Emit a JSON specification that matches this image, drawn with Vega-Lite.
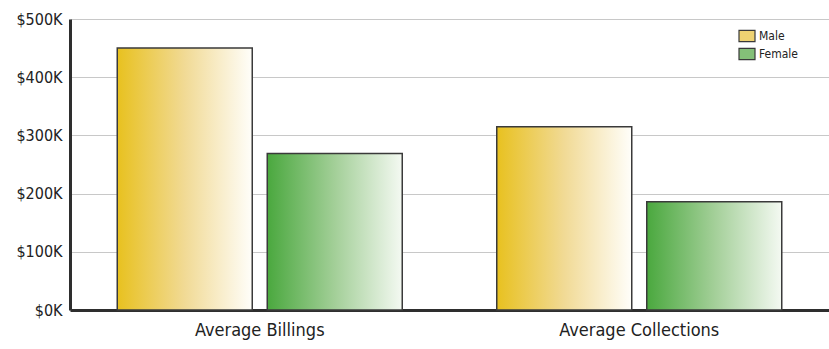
{
  "$schema": "https://vega.github.io/schema/vega-lite/v6.json",
  "autosize": "none",
  "width": 759,
  "height": 291,
  "padding": {"left": 70, "top": 19, "right": 0, "bottom": 39},
  "background": "white",
  "config": {
    "view": {"stroke": null},
    "font": "'DejaVu Sans Condensed', Lato, sans-serif"
  },
  "data": {
    "values": [
      {"metric": "Average Billings", "gender": "Male", "value": 450000},
      {"metric": "Average Billings", "gender": "Female", "value": 269000},
      {"metric": "Average Collections", "gender": "Male", "value": 315000},
      {"metric": "Average Collections", "gender": "Female", "value": 186000}
    ]
  },
  "mark": {"type": "bar", "stroke": "#3a3a3a", "strokeWidth": 1.5},
  "encoding": {
    "x": {
      "field": "metric",
      "type": "nominal",
      "sort": ["Average Billings", "Average Collections"],
      "scale": {"paddingInner": 0, "paddingOuter": 0},
      "axis": {
        "title": null,
        "labelAngle": 0,
        "labelFontSize": 18,
        "labelColor": "#222",
        "labelPadding": 11,
        "ticks": false,
        "domainColor": "#2e2e2e",
        "domainWidth": 3
      }
    },
    "xOffset": {
      "field": "gender",
      "type": "nominal",
      "sort": ["Male", "Female"],
      "scale": {"domain": ["Male", "Female"], "paddingInner": 0.1, "paddingOuter": 0.315}
    },
    "y": {
      "field": "value",
      "type": "quantitative",
      "scale": {"domain": [0, 500000]},
      "axis": {
        "title": null,
        "values": [0, 100000, 200000, 300000, 400000, 500000],
        "labelExpr": "'$' + datum.value/1000 + 'K'",
        "labelFontSize": 16,
        "labelColor": "#222",
        "labelPadding": 8,
        "ticks": false,
        "domainColor": "#2e2e2e",
        "domainWidth": 3,
        "grid": true,
        "gridColor": "#c8c8c8",
        "gridWidth": 1.2
      }
    },
    "color": {
      "field": "gender",
      "type": "nominal",
      "sort": ["Male", "Female"],
      "scale": {"domain": ["Male", "Female"], "range": ["#eed272", "#84c078"]},
      "condition": [
        {"test": "datum.gender === 'Male'", "value": {"gradient": "linear", "x1": 0, "x2": 1, "y1": 0, "y2": 0,
           "stops": [{"offset": 0, "color": "#e8c11f"}, {"offset": 0.5, "color": "#f1da95"}, {"offset": 1, "color": "#fffefa"}]}},
        {"test": "datum.gender === 'Female'", "value": {"gradient": "linear", "x1": 0, "x2": 1, "y1": 0, "y2": 0,
           "stops": [{"offset": 0, "color": "#4aa83e"}, {"offset": 0.5, "color": "#a3cf98"}, {"offset": 1, "color": "#f4f9f2"}]}}
      ],
      "legend": {
        "title": null,
        "orient": "none",
        "legendX": 668,
        "legendY": 8,
        "symbolType": "M-1,-0.7H1V0.7H-1Z",
        "symbolSize": 256,
        "symbolStrokeColor": "#3a3a3a",
        "symbolStrokeWidth": 1.2,
        "symbolOpacity": 1,
        "labelFontSize": 12,
        "labelColor": "#222",
        "labelOffset": 3,
        "rowPadding": 1,
        "encode": {
          "symbols": {
            "update": {},
            "stroke": {"value": "#3a3a3a"},
            "strokeWidth": {"value": 1.2}
          }
        }
      }
    }
  }
}
